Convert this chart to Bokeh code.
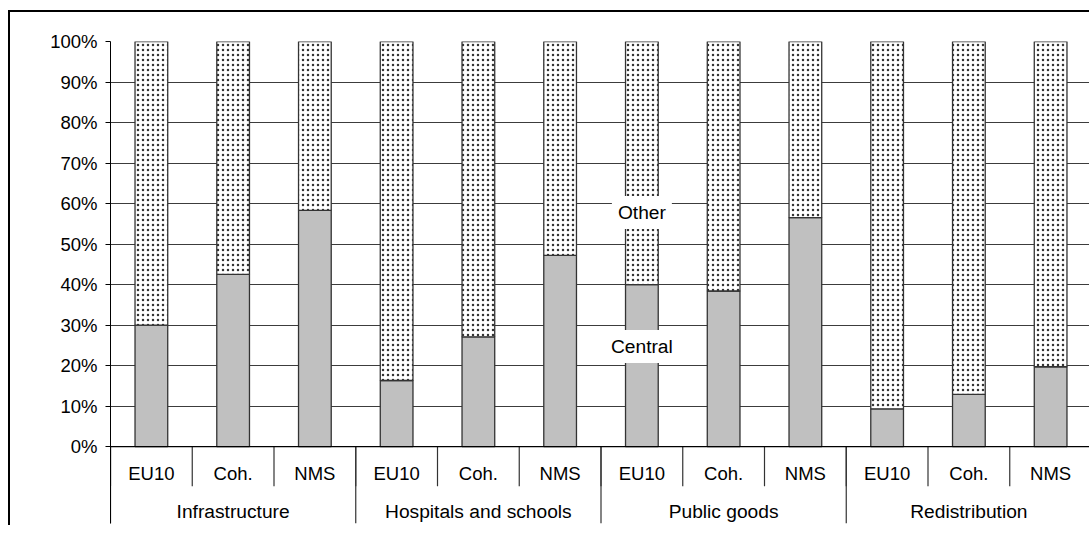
from bokeh.plotting import figure
from bokeh.models import FactorRange, ColumnDataSource, FixedTicker, Span, Range1d
from bokeh.transform import dodge, stack
from bokeh.core.properties import value
from bokeh.embed import file_html
from bokeh.resources import INLINE

# ---- data ----
groups = ["Infrastructure", "Hospitals and schools", "Public goods", "Redistribution"]
subgroups = ["EU10", "Coh.", "NMS"]
central = [30.0, 42.5, 58.3, 16.3, 27.1, 47.2, 40.0, 38.4, 56.5, 9.3, 12.9, 19.7]
other = [70.0, 57.5, 41.7, 83.7, 72.9, 52.8, 60.0, 61.6, 43.5, 90.7, 87.1, 80.3]
y_ticks = [0, 10, 20, 30, 40, 50, 60, 70, 80, 90, 100]
y_tick_labels = ["0%", "10%", "20%", "30%", "40%", "50%", "60%", "70%", "80%", "90%", "100%"]
series_labels = ["Other", "Central"]
series_label_cat = [("Public goods", "EU10"), ("Public goods", "EU10")]
series_label_y = [57.8, 24.7]

FONT = "Liberation Sans"
FS = "18.5px"
FS_BIG = "19.2px"

factors = [(g, s) for g in groups for s in subgroups]

p = figure(
    x_range=FactorRange(factors=factors, factor_padding=0, group_padding=0,
                        subgroup_padding=0, range_padding=0),
    y_range=Range1d(-19, 100),
    width=1081, height=515,
    output_backend="svg", toolbar_location=None,
    min_border_left=100, min_border_right=0, min_border_top=29, min_border_bottom=4,
)
p.styles = {"margin-left": "8px", "margin-top": "10px",
            "border-top": "2px solid black", "border-left": "2px solid black"}
p.outline_line_color = None
p.background_fill_color = "white"
p.border_fill_color = "white"

src = ColumnDataSource(dict(x=factors, central=central, other=other))

# bars
p.vbar(x="x", bottom=0, top=stack("central"), width=0.4, source=src,
       fill_color="#C0C0C0", line_color="#333333", line_width=1.3)
p.vbar(x="x", bottom=stack("central"), top=stack("central", "other"), width=0.4, source=src,
       fill_color="white", line_color="#333333", line_width=1.3,
       hatch_pattern="dot", hatch_scale=5, hatch_weight=1.5, hatch_color="#333333")

# axes and grid
p.xaxis.visible = False
p.xgrid.visible = False
p.yaxis.ticker = FixedTicker(ticks=y_ticks, minor_ticks=[])
p.yaxis.major_label_overrides = {t: l for t, l in zip(y_ticks, y_tick_labels)}
p.yaxis.major_label_text_font = FONT
p.yaxis.major_label_text_font_size = FS
p.yaxis.major_label_text_color = "black"
p.yaxis.major_label_standoff = 8
p.yaxis.major_tick_out = 5
p.yaxis.major_tick_in = 0
p.yaxis.minor_tick_out = 0
p.yaxis.axis_line_color = "black"
p.yaxis.major_tick_line_color = "black"
p.ygrid.grid_line_color = "#3c3c3c"
p.ygrid.grid_line_width = 1
p.ygrid.level = "underlay"

p.add_layout(Span(location=0, dimension="width", line_color="black", line_width=1.2))

# category dividers and labels
sub_src = ColumnDataSource(dict(x=factors))
p.segment(x0=dodge("x", -0.5, range=p.x_range), x1=dodge("x", -0.5, range=p.x_range),
          y0=0, y1=-9.8, source=sub_src, line_color="#333333", line_width=1.2)
grp_src = ColumnDataSource(dict(x=[(g, subgroups[0]) for g in groups]))
p.segment(x0=dodge("x", -0.5, range=p.x_range), x1=dodge("x", -0.5, range=p.x_range),
          y0=0, y1=-19, source=grp_src, line_color="#333333", line_width=1.2)
end_src = ColumnDataSource(dict(x=[(groups[-1], subgroups[-1])]))
p.segment(x0=dodge("x", 0.49, range=p.x_range), x1=dodge("x", 0.49, range=p.x_range),
          y0=0, y1=-19, source=end_src, line_color="#333333", line_width=1.2)

sub_lab = ColumnDataSource(dict(x=factors, t=[f[1] for f in factors]))
p.text(x="x", y=-6.7, text="t", source=sub_lab, text_align="center", text_baseline="middle",
       text_font=value(FONT), text_font_size=FS, text_color="black")
grp_lab = ColumnDataSource(dict(x=[(g, subgroups[1]) for g in groups], t=groups))
p.text(x="x", y=-16.0, text="t", source=grp_lab, text_align="center", text_baseline="middle",
       text_font=value(FONT), text_font_size=FS_BIG, text_color="black")

# series labels
lab_src = ColumnDataSource(dict(x=series_label_cat, y=series_label_y, t=series_labels))
p.text(x="x", y="y", text="t", source=lab_src, text_align="center", text_baseline="middle",
       text_font=value(FONT), text_font_size=FS_BIG, text_color="black",
       background_fill_color="white", padding=6)

open("out.html", "w").write(file_html(p, INLINE))
